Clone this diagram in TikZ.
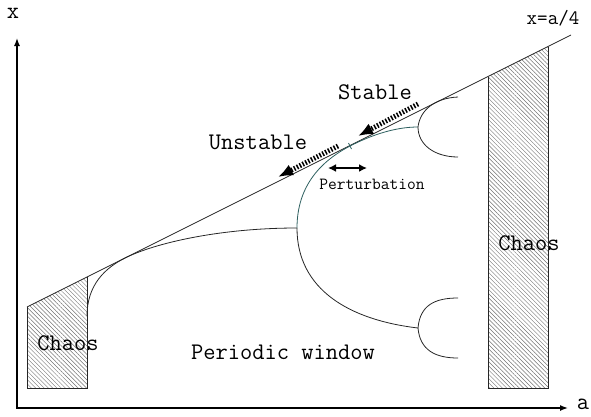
\documentclass[tikz,border=0pt]{standalone}
\usepackage{fontspec}
\usetikzlibrary{arrows.meta,patterns.meta}
\begin{document}
\begin{tikzpicture}[x=1pt,y=-1pt,
  curve/.style={line width=0.8pt,draw=black!85},
  tealc/.style={line width=0.8pt,draw={rgb,255:red,45;green,95;blue,95}},
  hatch/.style={pattern={Lines[angle=-45,distance=3pt,line width=0.45pt]},pattern color=black!55},
  axis/.style={line width=1.4pt,{Latex[length=8pt,width=6pt]}-{Latex[length=8pt,width=6pt]}},
  flow/.style={line width=5pt,dash pattern=on 1.5pt off 1.7pt,-{Latex[length=15pt,width=12pt]}},
  pert/.style={line width=2.5pt,{Latex[length=8pt,width=8pt]}-{Latex[length=8pt,width=8pt]}},
  lbl/.style={inner sep=0pt,font=\ttfamily\fontsize{23.8}{25}\selectfont},
  small/.style={inner sep=0pt,font=\ttfamily\fontsize{17}{18}\selectfont},
  mid/.style={inner sep=0pt,font=\ttfamily\fontsize{20.4}{22}\selectfont},
]
\useasboundingbox (0,0) rectangle (591,416);

% axes
\coordinate (O) at (17,408);
\coordinate (Ytip) at (17,38);
\coordinate (Xtip) at (568,408);
\draw[axis] (Ytip) -- (O) -- (Xtip);
\node[lbl] (xlab) at (13,13) {x};
\node[lbl] (alab) at (583,404) {a};

% chaos boxes
\coordinate (L0) at (27,307);
\coordinate (L1) at (571,35);
\coordinate (BLtr) at (87,277);
\coordinate (BLbr) at (87,388);
\coordinate (BLbl) at (27,388);
\coordinate (BRtl) at (488,76.5);
\coordinate (BRtr) at (548,46.5);
\coordinate (BRbr) at (548,388);
\coordinate (BRbl) at (488,388);
\fill[hatch] (L0) -- (BLtr) -- (BLbr) -- (BLbl) -- cycle;
\fill[hatch] (BRtl) -- (BRtr) -- (BRbr) -- (BRbl) -- cycle;
\draw[curve] (BLtr) -- (BLbr) -- (BLbl) -- (L0);
\draw[curve] (BRtr) -- (BRbr) -- (BRbl) -- (BRtl);

% line x=a/4
\draw[curve] (L0) -- (L1);
\node[mid] (xeq) at (553,18) {x=a/4};

% bifurcation curves
\coordinate (S) at (87,316);
\coordinate (T1) at (125,258);
\coordinate (F1) at (297,228);
\coordinate (T2) at (352,145);
\coordinate (F2) at (418,127);
\coordinate (F3) at (418,328);
\coordinate (E1) at (458,97);
\coordinate (E2) at (458,157);
\coordinate (E3) at (458,298);
\coordinate (E4) at (458,358);

\draw[curve] (S) .. controls (87,285) and (105,268) .. (T1)
  .. controls (155,243) and (220,228) .. (F1);
\draw[tealc] (F1) .. controls (297,185) and (322,160) .. (T2)
  .. controls (378,132) and (400,127) .. (F2);
\draw[curve] (F1) .. controls (297,290) and (350,320) .. (F3);
\draw[curve] (F2) .. controls (420,110) and (435,98) .. (E1);
\draw[curve] (F2) .. controls (418,145) and (435,157) .. (E2);
\draw[curve] (F3) .. controls (420,305) and (435,298) .. (E3);
\draw[curve] (F3) .. controls (420,350) and (435,358) .. (E4);
\draw[tealc] (348.5,143) -- (351.5,149);

% arrows
\coordinate (St0) at (418,104);
\coordinate (St1) at (358,136);
\coordinate (Un0) at (338,146);
\coordinate (Un1) at (278,177);
\coordinate (P0) at (328,168);
\coordinate (P1) at (367,168);
\draw[flow] (St0) -- (St1);
\draw[flow] (Un0) -- (Un1);
\draw[pert] (P0) -- (P1);

% labels
\node[lbl] (stable) at (375,92) {Stable};
\node[lbl] (unstable) at (258,142) {Unstable};
\node[small] (perttxt) at (372,184) {Perturbation};
\node[lbl] (chaosL) at (68,343) {Chaos};
\node[lbl] (chaosR) at (529,243) {Chaos};
\node[lbl] (pw) at (283,352) {Periodic window};
\end{tikzpicture}
\end{document}
